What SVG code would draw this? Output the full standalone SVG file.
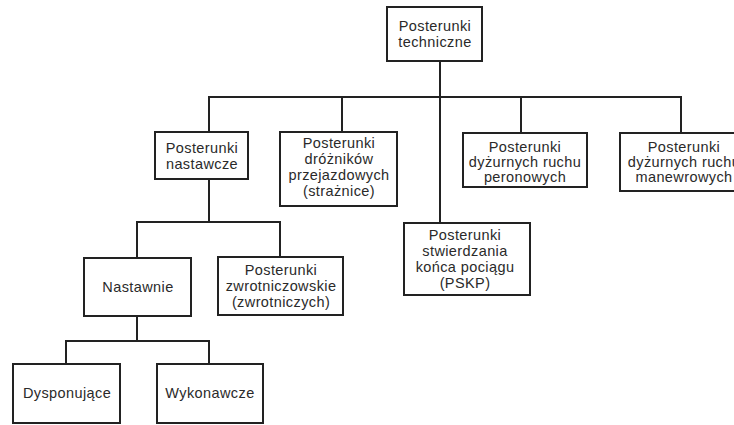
<svg xmlns="http://www.w3.org/2000/svg" width="734" height="425" viewBox="0 0 734 425">
<style>
.box{fill:#fff;stroke:#222;stroke-width:2}
.t{font-family:"Liberation Sans",Arial,sans-serif;font-size:14.5px;letter-spacing:0.4px;fill:#2a2a2a;text-anchor:middle}
.c{fill:none;stroke:#222;stroke-width:2}
</style>
<rect width="734" height="425" fill="#fff"/>
<g id="connectors">
<path class="c" d="M440 61V223"/>
<path class="c" d="M209 132V97H681V133"/>
<path class="c" d="M342 97V132"/>
<path class="c" d="M521 97V133"/>
<path class="c" d="M209 179V222"/>
<path class="c" d="M137 258V222H280V257"/>
<path class="c" d="M137 316V341"/>
<path class="c" d="M66 364V341H209V364"/>
</g>
<g id="n-techniczne">
<rect class="box" x="387" y="7" width="95" height="54"/>
<text class="t" x="435" y="31">Posterunki</text>
<text class="t" x="435" y="47">techniczne</text>
</g>
<g id="n-nastawcze">
<rect class="box" x="155" y="132" width="93" height="47"/>
<text class="t" x="202" y="153">Posterunki</text>
<text class="t" x="202" y="169">nastawcze</text>
</g>
<g id="n-drozniki">
<rect class="box" x="280" y="132" width="117" height="74"/>
<text class="t" x="339" y="148">Posterunki</text>
<text class="t" x="339" y="164">dróżników</text>
<text class="t" x="339" y="180">przejazdowych</text>
<text class="t" x="339" y="196">(strażnice)</text>
</g>
<g id="n-peronowe">
<rect class="box" x="463" y="133" width="124" height="54"/>
<text class="t" x="525" y="152">Posterunki</text>
<text class="t" x="525" y="167">dyżurnych ruchu</text>
<text class="t" x="525" y="182">peronowych</text>
</g>
<g id="n-manewrowe">
<rect class="box" x="620" y="133" width="128" height="58"/>
<text class="t" x="684" y="152">Posterunki</text>
<text class="t" x="684" y="167">dyżurnych ruchu</text>
<text class="t" x="684" y="182">manewrowych</text>
</g>
<g id="n-pskp">
<rect class="box" x="404" y="223" width="126" height="72"/>
<text class="t" x="465" y="240">Posterunki</text>
<text class="t" x="465" y="256">stwierdzania</text>
<text class="t" x="465" y="272">końca pociągu</text>
<text class="t" x="465" y="288">(PSKP)</text>
</g>
<g id="n-nastawnie">
<rect class="box" x="84" y="258" width="107" height="58"/>
<text class="t" x="138" y="292">Nastawnie</text>
</g>
<g id="n-zwrotniczowskie">
<rect class="box" x="218" y="257" width="125" height="58"/>
<text class="t" x="281" y="275">Posterunki</text>
<text class="t" x="281" y="291">zwrotniczowskie</text>
<text class="t" x="281" y="307">(zwrotniczych)</text>
</g>
<g id="n-dysponujace">
<rect class="box" x="13" y="364" width="107" height="59"/>
<text class="t" x="67" y="398">Dysponujące</text>
</g>
<g id="n-wykonawcze">
<rect class="box" x="157" y="364" width="106" height="59"/>
<text class="t" x="210" y="398">Wykonawcze</text>
</g>
</svg>
